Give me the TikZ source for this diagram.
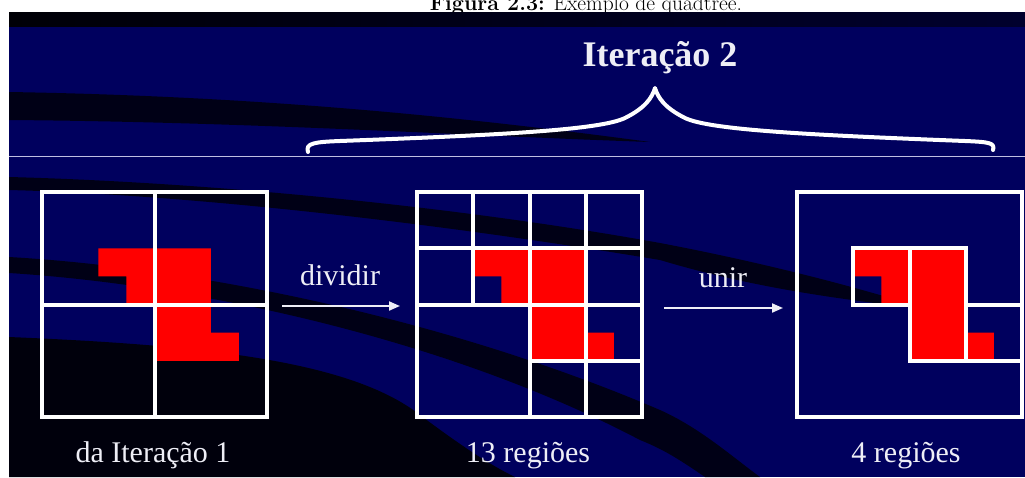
\documentclass[tikz,border=0pt]{standalone}
\usepackage{fontspec}
\newfontfamily\tnr{Liberation Serif}
\usetikzlibrary{arrows.meta}
\definecolor{navy}{RGB}{0,0,94}
\definecolor{darkband}{RGB}{0,0,22}
\definecolor{darkcorner}{RGB}{0,0,12}
\definecolor{stripL}{RGB}{0,0,6}
\definecolor{stripR}{RGB}{0,0,45}
\definecolor{capline}{RGB}{190,190,225}
\definecolor{txt}{RGB}{238,238,246}
\newcommand\qtred{\fill[red] (2,2) -- (6,2) -- (6,5) -- (7,5) -- (7,6) -- (4,6) -- (4,4) -- (3,4) -- (3,3) -- (2,3) -- cycle;}
\begin{document}
\begin{tikzpicture}[x=1pt,y=-1pt,
  panel/.style={draw=white, line width=4pt, minimum width=225pt, minimum height=225pt, inner sep=0pt, outer sep=0pt},
  gridline/.style={draw=white, line width=4pt, line cap=rect},
  lbl/.style={text=txt, inner sep=0pt, font=\tnr\fontsize{30}{36}\selectfont, anchor=base},
  arr/.style={draw=txt, line width=2pt, -{Triangle[length=11pt,width=9pt]}},
  band/.style={fill=darkband}
]
\useasboundingbox (0,0) rectangle (1025,477);
\clip (0,0) rectangle (1025,477);
\fill[white] (0,0) rectangle (1025,477);
% caption (cut off by the page top)
\node[anchor=base, inner sep=0pt, font=\fontsize{21.5}{26}\selectfont] (cap) at (586,10.5) {\textbf{Figura 2.3:} Exemplo de quadtree.};
% background picture
\fill[navy] (9,12.7) rectangle (1025,477);
\shade[left color=stripL, right color=stripR] (9,12.7) rectangle (1025,26.7);
% swooshes
\fill[band] (9,92) .. controls (250,96) and (450,115) .. (650,142) .. controls (450,135) and (250,122) .. (9,120) -- cycle;
\fill[band] (9,177) .. controls (200,182) and (450,205) .. (660,243) .. controls (760,262) and (850,285) .. (930,310) .. controls (850,300) and (760,290) .. (660,260) .. controls (450,225) and (200,195) .. (9,190) -- cycle;
\fill[band] (9,257) .. controls (200,268) and (450,320) .. (660,410) .. controls (700,428) and (730,455) .. (760,477) -- (705,477) .. controls (680,460) and (665,450) .. (640,440) .. controls (450,340) and (200,285) .. (9,273) -- cycle;
\fill[darkcorner] (9,337) .. controls (200,345) and (350,360) .. (420,415) .. controls (460,445) and (490,465) .. (515,477) -- (9,477) -- cycle;
% thin line
\draw[capline, line width=1pt] (9,156) -- (1025,156);
% title and brace
\node[anchor=base, inner sep=0pt, text=txt, font=\tnr\bfseries\fontsize{36}{40}\selectfont] (title) at (660,66) {Iteração 2};
\coordinate (tip) at (655,88);
\draw[white, line width=4pt, line cap=round, line join=round]
  (308,152) .. controls (305,143) and (315,142) .. (340,141)
  .. controls (500,135) and (600,130) .. (625,118)
  .. controls (645,108) and (652,98) .. (tip)
  .. controls (658,98) and (665,108) .. (685,118)
  .. controls (710,130) and (810,135) .. (965,141)
  .. controls (990,142) and (995,143) .. (993,150);
% panel 1
\begin{scope}[shift={(42,192)}, x=28.125pt, y=-28.125pt]
  \qtred
  \node[panel] (p1) at (4,4) {};
  \draw[gridline] (4,0) -- (4,8) (0,4) -- (8,4);
\end{scope}
% panel 2
\begin{scope}[shift={(417,192)}, x=28.125pt, y=-28.125pt]
  \qtred
  \node[panel] (p2) at (4,4) {};
  \draw[gridline] (4,0) -- (4,8) (0,4) -- (8,4) (2,0) -- (2,4) (6,0) -- (6,8) (0,2) -- (8,2) (4,6) -- (8,6);
\end{scope}
% panel 3
\begin{scope}[shift={(797,192)}, x=28.125pt, y=-28.125pt]
  \qtred
  \node[panel] (p3) at (4,4) {};
  \draw[gridline] (2,4) -- (2,2) -- (6,2) (2,4) -- (4,4) (4,2) -- (4,6) -- (8,6) (6,2) -- (6,6) (6,4) -- (8,4);
\end{scope}
% arrows and labels
\coordinate (a1s) at (282,306);
\coordinate (a1e) at (400,306);
\coordinate (a2s) at (664,308);
\coordinate (a2e) at (783,308);
\draw[arr] (a1s) -- (a1e);
\draw[arr] (a2s) -- (a2e);
\node[lbl] (ldiv) at (340,285) {dividir};
\node[lbl] (luni) at (723,287) {unir};
\node[lbl] (l1) at (153,462) {da Iteração 1};
\node[lbl] (l2) at (528,462) {13 regiões};
\node[lbl] (l3) at (906,462) {4 regiões};
\end{tikzpicture}
\end{document}
